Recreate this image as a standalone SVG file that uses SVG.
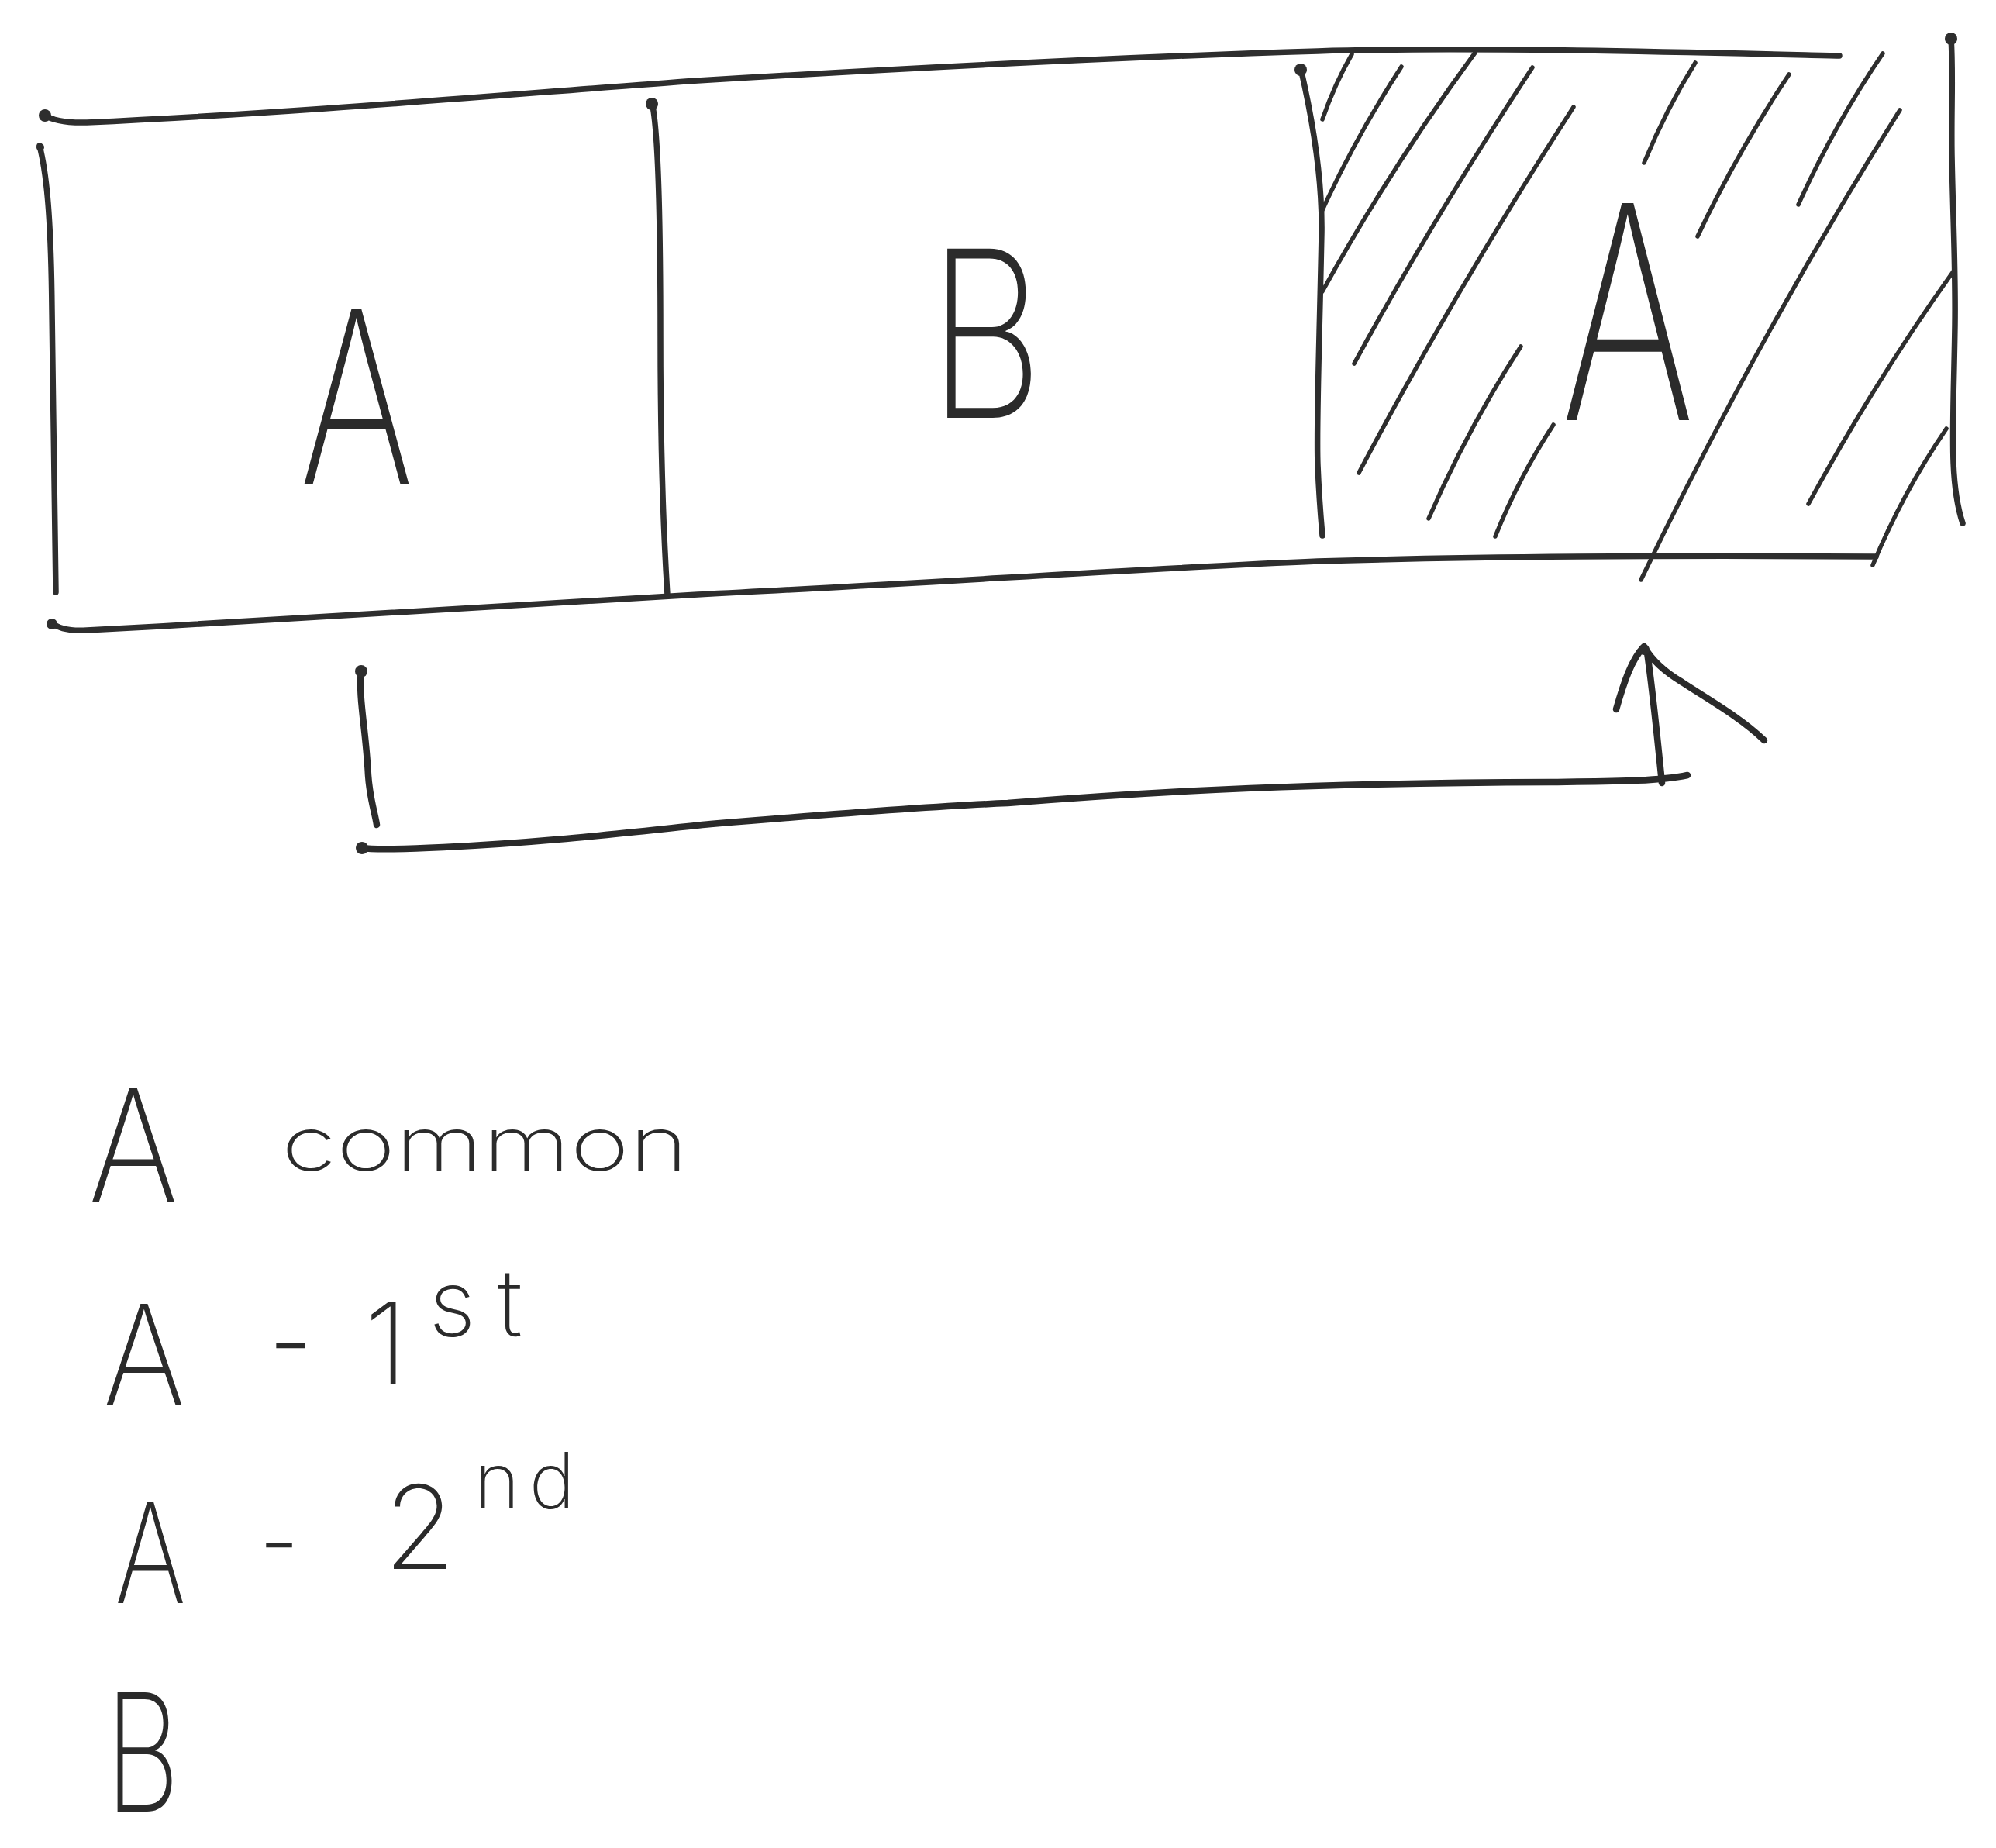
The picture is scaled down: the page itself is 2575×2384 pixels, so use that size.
<svg xmlns="http://www.w3.org/2000/svg" width="2575" height="2384" viewBox="0 0 2575 2384">
<style>
.ln{fill:none;stroke:#2e2e2e;stroke-width:7.5;stroke-linecap:round;stroke-linejoin:round}
.hl{fill:none;stroke:#2e2e2e;stroke-width:5.5;stroke-linecap:round}
.ar{fill:none;stroke:#2a2a2a;stroke-width:8.5;stroke-linecap:round;stroke-linejoin:round}
.dot{fill:#2e2e2e}
.t{font-family:Inter,"Liberation Sans","DejaVu Sans",sans-serif;font-weight:200;fill:#2b2b2b}
</style>
<rect width="2575" height="2384" fill="#ffffff"/>
<g id="frame">
<path class="ln" d="M57,148 Q72,159 112,158 C400,145 700,118 900,104 C1200,86 1500,72 1700,66 C1900,60 2200,68 2373,72"/>
<path class="ln" d="M66,803 Q80,815 112,813 C400,798 700,778 900,767 C1200,752 1500,732 1700,724 C1900,718 2100,716 2420,718"/>
<circle class="dot" cx="58" cy="149" r="8"/>
<circle class="dot" cx="67" cy="805" r="7"/>
</g>
<g id="cell-a-common">
<path class="ln" d="M51,188 C62,230 66,300 67,400 C68,550 72,700 72,764"/>
<circle class="dot" cx="52" cy="190" r="5"/>
<text class="t" x="386" y="624" font-size="310" textLength="148" lengthAdjust="spacingAndGlyphs">A</text>
</g>
<g id="cell-b">
<path class="ln" d="M841,132 C850,170 852,300 852,434 C852,600 858,720 861,767"/>
<circle class="dot" cx="841" cy="134" r="8"/>
<text class="t" x="1198" y="539" font-size="300" textLength="148" lengthAdjust="spacingAndGlyphs">B</text>
</g>
<g id="cell-a-second">
<path class="ln" d="M1678,88 C1690,140 1706,220 1705,300 C1702,450 1698,550 1700,600 C1702,650 1706,690 1706,691"/>
<path class="ln" d="M2517,48 C2520,100 2517,140 2518,200 C2520,300 2523,350 2522,420 C2520,550 2514,620 2532,675"/>
<circle class="dot" cx="1678" cy="90" r="8"/>
<circle class="dot" cx="2517" cy="50" r="8"/>
<g id="hatch">
<path class="hl" d="M1744,70 Q1722,108 1706,154"/>
<path class="hl" d="M1808,86 Q1750,175 1706,271"/>
<path class="hl" d="M1903,68 Q1795,215 1706,376"/>
<path class="hl" d="M1977,87 Q1850,280 1747,469"/>
<path class="hl" d="M2030,138 Q1880,370 1753,610"/>
<path class="hl" d="M1962,447 Q1895,550 1843,669"/>
<path class="hl" d="M2004,548 Q1960,615 1929,692"/>
<path class="hl" d="M2187,81 Q2150,140 2121,210"/>
<path class="hl" d="M2308,96 Q2242,195 2190,305"/>
<path class="hl" d="M2429,69 Q2367,160 2320,264"/>
<path class="hl" d="M2451,142 Q2270,430 2117,748"/>
<path class="hl" d="M2520,350 Q2420,490 2333,650"/>
<path class="hl" d="M2511,553 Q2455,635 2416,729"/>
</g>
<text class="t" x="2013" y="542" font-size="385" textLength="174" lengthAdjust="spacingAndGlyphs">A</text>
</g>
<g id="connectors">
<path class="ar" d="M466,864 C462,900 472,940 475,1000 C477,1030 484,1050 486,1064"/>
<path class="ar" d="M466,1094 Q490,1097 572,1093 C700,1087 800,1075 917,1063 C1050,1052 1200,1040 1300,1036 C1500,1020 1700,1010 2001,1009 C2080,1008 2140,1008 2177,1000"/>
<path class="ar" d="M2144,1010 C2139,960 2132,890 2125,842"/>
<path class="ar" d="M2085,915 C2095,880 2105,850 2121,834 C2130,850 2145,865 2170,880 C2200,900 2245,925 2276,955"/>
<circle class="dot" cx="466" cy="866" r="8"/>
<circle class="dot" cx="467" cy="1094" r="8"/>
<circle class="dot" cx="2121" cy="838" r="7"/>
</g>
<g id="legend">
<g id="legend-common">
<text class="t" x="114" y="1550" font-size="200" textLength="116" lengthAdjust="spacingAndGlyphs">A</text>
<text class="t" x="363" y="1510" font-size="95" textLength="525" lengthAdjust="spacingAndGlyphs">common</text>
</g>
<g id="legend-first">
<text class="t" x="133" y="1812" font-size="178" textLength="106" lengthAdjust="spacingAndGlyphs">A</text>
<text class="t" x="346" y="1783" font-size="150" textLength="58" lengthAdjust="spacingAndGlyphs">-</text>
<text class="t" x="470" y="1786" font-size="147">1<tspan x="553" dy="-62" font-size="120" letter-spacing="28">st</tspan></text>
</g>
<g id="legend-second">
<text class="t" x="148" y="2068" font-size="180" textLength="92" lengthAdjust="spacingAndGlyphs">A</text>
<text class="t" x="334" y="2040" font-size="150" textLength="52" lengthAdjust="spacingAndGlyphs">-</text>
<text class="t" x="495" y="2024" font-size="150">2<tspan x="612" dy="-78" font-size="100" letter-spacing="12">nd</tspan></text>
</g>
<g id="legend-b">
<text class="t" x="136" y="2337" font-size="212" textLength="96" lengthAdjust="spacingAndGlyphs">B</text>
</g>
</g>
</svg>
